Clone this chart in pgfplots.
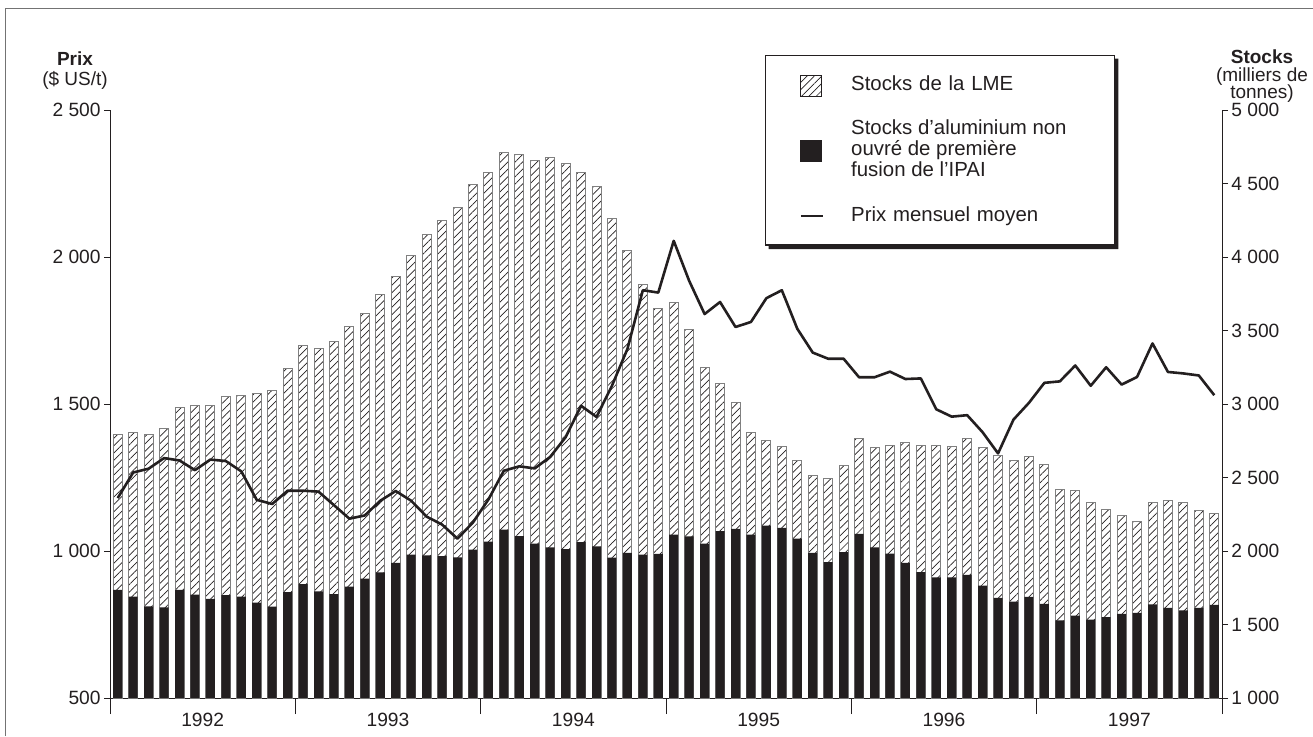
\documentclass[border=0pt]{standalone}
\usepackage{fontspec}
\setmainfont{Liberation Sans}
\usepackage{pgfplots}
\pgfplotsset{compat=1.18}
\usepackage{pgfplotstable}
\usetikzlibrary{patterns.meta}
\definecolor{ink}{HTML}{231F20}

\pgfplotstableread{
x tot ipai price
0 2795 1736 1180
1 2805 1690 1267
2 2795 1623 1280
3 2830 1617 1316
4 2975 1736 1308
5 2992 1703 1275
6 2992 1675 1311
7 3050 1700 1306
8 3057 1690 1271
9 3070 1649 1174
10 3095 1621 1160
11 3240 1720 1205
12 3395 1775 1205
13 3380 1725 1202
14 3425 1707 1156
15 3525 1757 1110
16 3615 1812 1121
17 3742 1855 1171
18 3865 1920 1204
19 4012 1975 1171
20 4152 1970 1117
21 4247 1965 1090
22 4340 1957 1042
23 4495 2010 1097
24 4578 2063 1175
25 4710 2146 1273
26 4698 2101 1288
27 4657 2051 1281
28 4678 2024 1320
29 4635 2012 1387
30 4575 2060 1494
31 4480 2032 1456
32 4262 1955 1562
33 4042 1987 1687
34 3812 1975 1887
35 3650 1980 1879
36 3690 2112 2055
37 3510 2100 1919
38 3250 2050 1806
39 3137 2135 1847
40 3007 2150 1762
41 2805 2112 1779
42 2755 2172 1860
43 2710 2157 1887
44 2617 2085 1756
45 2515 1987 1675
46 2492 1925 1654
47 2580 1992 1654
48 2765 2116 1591
49 2702 2025 1591
50 2720 1982 1610
51 2737 1920 1585
52 2715 1857 1587
53 2717 1820 1482
54 2712 1820 1457
55 2765 1837 1462
56 2702 1765 1404
57 2650 1682 1332
58 2615 1655 1447
59 2640 1688 1504
60 2587 1641 1572
61 2416 1528 1577
62 2412 1560 1631
63 2330 1534 1562
64 2283 1550 1625
65 2241 1572 1566
66 2203 1579 1592
67 2333 1637 1706
68 2345 1613 1609
69 2330 1596 1604
70 2278 1613 1597
71 2255 1634 1530
}\data

\pgfplotsset{
  common/.style={
    at={(55pt,19pt)}, anchor=south west, scale only axis,
    width=556pt, height=294pt,
    xmin=-0.5, xmax=71.5,
    axis line style={ink, line width=0.5pt, -},
    tick style={ink, line width=0.5pt},
    tick align=outside,
    major tick length=3pt,
    /pgf/number format/assume math mode=true,
    /pgf/number format/1000 sep={\ },
    tick label style={font=\fontsize{9.6}{11}\selectfont, text=ink},
    yticklabel style={inner xsep=1.5pt},
  }
}

\begin{document}
\begin{tikzpicture}
\path[use as bounding box] (0,0) rectangle (656.5pt,368pt);
\draw[black!55, line width=0.5pt] (2.5pt,0pt) -- (2.5pt,364pt) -- (656.5pt,364pt);

% stocks axis (right)
\begin{axis}[common, name=stocks,
  ymin=1000, ymax=5000,
  axis x line*=bottom, axis y line*=right,
  ytick={1000,1500,...,5000},
  xtick={5.5,17.5,29.5,41.5,53.5,65.5},
  xticklabels={1992,1993,1994,1995,1996,1997},
  major x tick style={draw=none},
  minor xtick={-0.5,11.5,23.5,35.5,47.5,59.5,71.5},
  minor tick length=8pt,
  xticklabel style={yshift=-1pt},
  ybar, bar width=4.5pt,
]
\addplot[bar shift=0pt, draw=black!50, line width=0.5pt,
  pattern={Lines[angle=45,distance=2.6pt,line width=0.35pt]}, pattern color=ink]
  table[x=x,y=tot]{\data};
\addplot[bar shift=0pt, fill=ink, draw=none]
  table[x=x,y=ipai]{\data};
\end{axis}

% price axis (left)
\begin{axis}[common, name=price,
  ymin=500, ymax=2500,
  axis x line=none, axis y line*=left,
  ytick={500,1000,...,2500},
  legend style={at={(0.589,1.0935)}, anchor=north west, name=leg,
    draw=ink, line width=0.6pt, fill=white,
    inner xsep=17pt, inner ysep=9.5pt, row sep=11.5pt, column sep=13.5pt,
    font=\fontsize{10.2}{10.6}\selectfont, text=ink,
    nodes={inner sep=0pt}, cells={anchor=west}},
]
\addlegendimage{legend image code/.code={
  \draw[draw=ink, line width=0.4pt, pattern={Lines[angle=45,distance=2.6pt,line width=0.35pt]}, pattern color=ink]
  (0pt,-5.25pt) rectangle (10.5pt,5.25pt);}}
\addlegendentry[text width=114.5pt, align=left, text height=7.5pt, text depth=2.5pt]{Stocks de la LME}
\addlegendimage{legend image code/.code={
  \fill[ink] (0pt,-5.25pt) rectangle (10.5pt,5.25pt);}}
\addlegendentry[text height=18.4pt, text depth=13.4pt]{\begin{tabular}{@{}l@{}}Stocks d'aluminium non\\ouvré de première\\fusion de l'IPAI\end{tabular}}
\addplot[ink, line width=1.3pt, line join=round, mark=none,
  legend image code/.code={\draw[ink, line width=1.3pt] (0pt,0pt) -- (11pt,0pt);}]
  table[x=x,y=price]{\data};
\addlegendentry[text width=114.5pt, align=left, text height=7.5pt, text depth=2.5pt]{Prix mensuel moyen}
\end{axis}

% legend shadow (right and bottom strips)
\fill[ink] ([yshift=-1.8pt]leg.north east) -- ([xshift=1.8pt,yshift=-1.8pt]leg.north east)
  -- ([xshift=1.8pt,yshift=-1.8pt]leg.south east) -- ([xshift=1.8pt,yshift=-1.8pt]leg.south west)
  -- ([xshift=1.8pt]leg.south west) -- (leg.south east) -- cycle;

\begin{scope}[every node/.style={anchor=base, text=ink, inner sep=0pt, font=\fontsize{9.5}{11}\selectfont}]
\node[font=\bfseries\fontsize{9.5}{11}\selectfont] at ([xshift=-17.5pt, yshift=22.5pt]price.north west) {Prix};
\node at ([xshift=-17.5pt, yshift=12.2pt]price.north west) {(\$ US/t)};
\node[font=\bfseries\fontsize{9.5}{11}\selectfont] at ([xshift=20pt, yshift=23.2pt]price.north east) {Stocks};
\node at ([xshift=20pt, yshift=14.3pt]price.north east) {(milliers de};
\node at ([xshift=20pt, yshift=5.8pt]price.north east) {tonnes)};
\end{scope}
\end{tikzpicture}
\end{document}
